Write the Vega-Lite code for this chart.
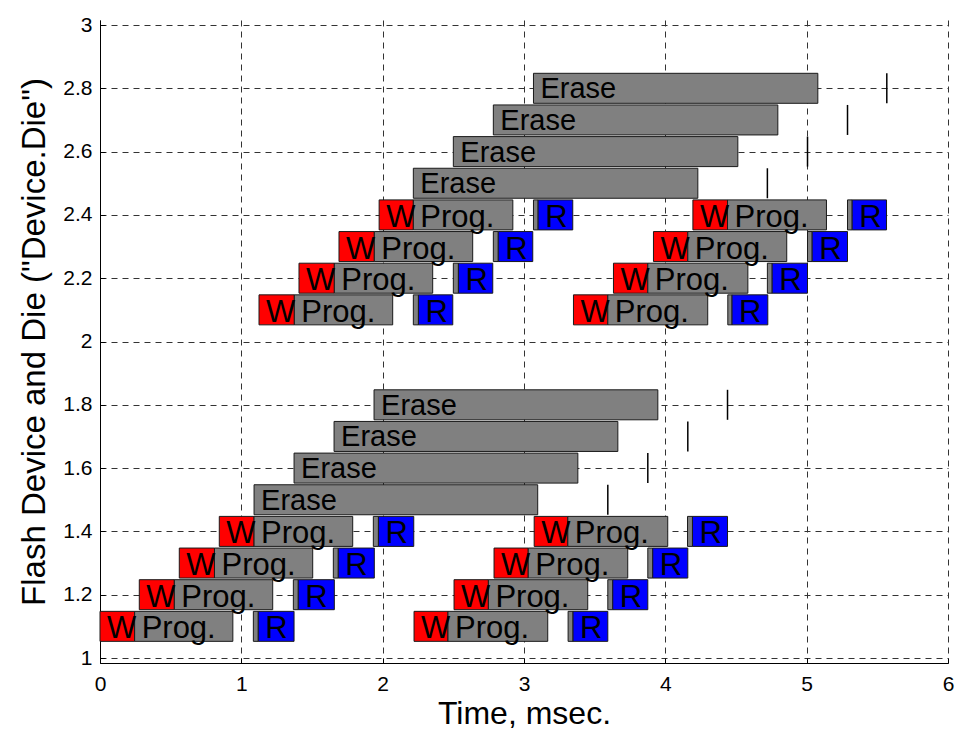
{
  "$schema": "https://vega.github.io/schema/vega-lite/v6.json",
  "width": 848,
  "height": 643,
  "autosize": {"type": "none"},
  "padding": {"left": 100, "top": 20, "right": 19, "bottom": 68},
  "background": "white",
  "config": {"view": {"stroke": null}, "font": "Liberation Sans"},
  "datasets": {
    "bars": [
      {"row": 1.1, "kind": "W", "start": 0, "end": 0.245, "label": "W"},
      {"row": 1.1, "kind": "Prog", "start": 0.245, "end": 0.94, "label": "Prog."},
      {"row": 1.1, "kind": "Small", "start": 1.085, "end": 1.12, "label": ""},
      {"row": 1.1, "kind": "R", "start": 1.12, "end": 1.373, "label": "R"},
      {"row": 1.2, "kind": "W", "start": 0.278, "end": 0.526, "label": "W"},
      {"row": 1.2, "kind": "Prog", "start": 0.526, "end": 1.222, "label": "Prog."},
      {"row": 1.2, "kind": "Small", "start": 1.368, "end": 1.403, "label": ""},
      {"row": 1.2, "kind": "R", "start": 1.403, "end": 1.658, "label": "R"},
      {"row": 1.3, "kind": "W", "start": 0.561, "end": 0.81, "label": "W"},
      {"row": 1.3, "kind": "Prog", "start": 0.81, "end": 1.505, "label": "Prog."},
      {"row": 1.3, "kind": "Small", "start": 1.651, "end": 1.686, "label": ""},
      {"row": 1.3, "kind": "R", "start": 1.686, "end": 1.941, "label": "R"},
      {"row": 1.4, "kind": "W", "start": 0.844, "end": 1.09, "label": "W"},
      {"row": 1.4, "kind": "Prog", "start": 1.09, "end": 1.788, "label": "Prog."},
      {"row": 1.4, "kind": "Small", "start": 1.934, "end": 1.97, "label": ""},
      {"row": 1.4, "kind": "R", "start": 1.97, "end": 2.22, "label": "R"},
      {"row": 1.1, "kind": "W", "start": 2.222, "end": 2.462, "label": "W"},
      {"row": 1.1, "kind": "Prog", "start": 2.462, "end": 3.168, "label": "Prog."},
      {"row": 1.1, "kind": "Small", "start": 3.312, "end": 3.347, "label": ""},
      {"row": 1.1, "kind": "R", "start": 3.347, "end": 3.593, "label": "R"},
      {"row": 1.2, "kind": "W", "start": 2.505, "end": 2.748, "label": "W"},
      {"row": 1.2, "kind": "Prog", "start": 2.748, "end": 3.451, "label": "Prog."},
      {"row": 1.2, "kind": "Small", "start": 3.593, "end": 3.628, "label": ""},
      {"row": 1.2, "kind": "R", "start": 3.628, "end": 3.876, "label": "R"},
      {"row": 1.3, "kind": "W", "start": 2.788, "end": 3.03, "label": "W"},
      {"row": 1.3, "kind": "Prog", "start": 3.03, "end": 3.734, "label": "Prog."},
      {"row": 1.3, "kind": "Small", "start": 3.876, "end": 3.911, "label": ""},
      {"row": 1.3, "kind": "R", "start": 3.911, "end": 4.159, "label": "R"},
      {"row": 1.4, "kind": "W", "start": 3.072, "end": 3.31, "label": "W"},
      {"row": 1.4, "kind": "Prog", "start": 3.31, "end": 4.017, "label": "Prog."},
      {"row": 1.4, "kind": "Small", "start": 4.157, "end": 4.192, "label": ""},
      {"row": 1.4, "kind": "R", "start": 4.192, "end": 4.44, "label": "R"},
      {"row": 2.1, "kind": "W", "start": 1.125, "end": 1.375, "label": "W"},
      {"row": 2.1, "kind": "Prog", "start": 1.375, "end": 2.071, "label": "Prog."},
      {"row": 2.1, "kind": "Small", "start": 2.217, "end": 2.253, "label": ""},
      {"row": 2.1, "kind": "R", "start": 2.253, "end": 2.496, "label": "R"},
      {"row": 2.2, "kind": "W", "start": 1.408, "end": 1.658, "label": "W"},
      {"row": 2.2, "kind": "Prog", "start": 1.658, "end": 2.354, "label": "Prog."},
      {"row": 2.2, "kind": "Small", "start": 2.5, "end": 2.536, "label": ""},
      {"row": 2.2, "kind": "R", "start": 2.536, "end": 2.779, "label": "R"},
      {"row": 2.3, "kind": "W", "start": 1.691, "end": 1.941, "label": "W"},
      {"row": 2.3, "kind": "Prog", "start": 1.941, "end": 2.637, "label": "Prog."},
      {"row": 2.3, "kind": "Small", "start": 2.783, "end": 2.818, "label": ""},
      {"row": 2.3, "kind": "R", "start": 2.818, "end": 3.062, "label": "R"},
      {"row": 2.4, "kind": "W", "start": 1.975, "end": 2.217, "label": "W"},
      {"row": 2.4, "kind": "Prog", "start": 2.217, "end": 2.921, "label": "Prog."},
      {"row": 2.4, "kind": "Small", "start": 3.067, "end": 3.1, "label": ""},
      {"row": 2.4, "kind": "R", "start": 3.1, "end": 3.345, "label": "R"},
      {"row": 2.1, "kind": "W", "start": 3.35, "end": 3.593, "label": "W"},
      {"row": 2.1, "kind": "Prog", "start": 3.593, "end": 4.3, "label": "Prog."},
      {"row": 2.1, "kind": "Small", "start": 4.442, "end": 4.472, "label": ""},
      {"row": 2.1, "kind": "R", "start": 4.472, "end": 4.725, "label": "R"},
      {"row": 2.2, "kind": "W", "start": 3.633, "end": 3.876, "label": "W"},
      {"row": 2.2, "kind": "Prog", "start": 3.876, "end": 4.584, "label": "Prog."},
      {"row": 2.2, "kind": "Small", "start": 4.722, "end": 4.756, "label": ""},
      {"row": 2.2, "kind": "R", "start": 4.756, "end": 5.006, "label": "R"},
      {"row": 2.3, "kind": "W", "start": 3.916, "end": 4.159, "label": "W"},
      {"row": 2.3, "kind": "Prog", "start": 4.159, "end": 4.859, "label": "Prog."},
      {"row": 2.3, "kind": "Small", "start": 5.006, "end": 5.039, "label": ""},
      {"row": 2.3, "kind": "R", "start": 5.039, "end": 5.289, "label": "R"},
      {"row": 2.4, "kind": "W", "start": 4.195, "end": 4.44, "label": "W"},
      {"row": 2.4, "kind": "Prog", "start": 4.44, "end": 5.14, "label": "Prog."},
      {"row": 2.4, "kind": "Small", "start": 5.289, "end": 5.322, "label": ""},
      {"row": 2.4, "kind": "R", "start": 5.322, "end": 5.565, "label": "R"},
      {"row": 1.5, "kind": "Erase", "start": 1.09, "end": 3.097, "label": "Erase"},
      {"row": 1.6, "kind": "Erase", "start": 1.373, "end": 3.381, "label": "Erase"},
      {"row": 1.7, "kind": "Erase", "start": 1.656, "end": 3.664, "label": "Erase"},
      {"row": 1.8, "kind": "Erase", "start": 1.939, "end": 3.947, "label": "Erase"},
      {"row": 2.5, "kind": "Erase", "start": 2.217, "end": 4.23, "label": "Erase"},
      {"row": 2.6, "kind": "Erase", "start": 2.5, "end": 4.513, "label": "Erase"},
      {"row": 2.7, "kind": "Erase", "start": 2.783, "end": 4.796, "label": "Erase"},
      {"row": 2.8, "kind": "Erase", "start": 3.067, "end": 5.079, "label": "Erase"}
    ],
    "ticks": [
      {"row": 1.5, "t": 3.593},
      {"row": 1.6, "t": 3.876},
      {"row": 1.7, "t": 4.159},
      {"row": 1.8, "t": 4.44},
      {"row": 2.5, "t": 4.722},
      {"row": 2.6, "t": 5.006},
      {"row": 2.7, "t": 5.289},
      {"row": 2.8, "t": 5.567}
    ]
  },
  "layer": [
    {
      "data": {"name": "bars"},
      "mark": {"type": "bar", "height": 30, "stroke": "#1a1a1a", "strokeWidth": 1},
      "encoding": {
        "x": {
          "field": "start", "type": "quantitative",
          "scale": {"domain": [0, 6], "nice": false, "zero": false},
          "axis": {
            "values": [0, 1, 2, 3, 4, 5, 6],
            "format": "~g",
            "title": "Time, msec.",
            "grid": true, "gridDash": [6, 5], "gridColor": "#333333", "gridWidth": 1, "gridOpacity": 1,
            "domainColor": "black", "domainWidth": 1,
            "ticks": true, "tickColor": "black", "tickSize": -5, "tickWidth": 1,
            "labelPadding": 15, "labelFontSize": 21, "labelColor": "black", "labelFont": "Liberation Sans", "labelFlush": false,
            "titleFontSize": 32, "titleFontWeight": "normal", "titleColor": "black", "titleFont": "Liberation Sans",
            "titleX": 424, "titleY": 60, "titleBaseline": "alphabetic", "titleAlign": "center"
          }
        },
        "x2": {"field": "end"},
        "y": {
          "field": "row", "type": "quantitative",
          "scale": {"domain": [1, 3], "nice": false, "zero": false},
          "axis": {
            "values": [1, 1.2, 1.4, 1.6, 1.8, 2, 2.2, 2.4, 2.6, 2.8, 3],
            "format": "~g",
            "title": "Flash Device and Die (\"Device.Die\")",
            "grid": true, "gridDash": [6, 5], "gridColor": "#333333", "gridWidth": 1, "gridOpacity": 1,
            "domainColor": "black", "domainWidth": 1,
            "ticks": true, "tickColor": "black", "tickSize": -5, "tickWidth": 1,
            "labelPadding": 13, "labelFontSize": 21, "labelColor": "black", "labelFont": "Liberation Sans", "labelFlush": false,
            "titleFontSize": 33, "titleFontWeight": "normal", "titleColor": "black", "titleFont": "Liberation Sans",
            "titleX": -56, "titleY": 321.5, "titleBaseline": "alphabetic", "titleAlign": "center", "titleAngle": -90
          }
        },
        "color": {
          "field": "kind", "type": "nominal",
          "scale": {"domain": ["W", "Prog", "Small", "R", "Erase"], "range": ["#ff0000", "#808080", "#808080", "#0000ff", "#808080"]},
          "legend": null
        }
      }
    },
    {
      "data": {"name": "ticks"},
      "mark": {"type": "tick", "orient": "vertical", "size": 30, "thickness": 1.5, "color": "black", "opacity": 1},
      "encoding": {
        "x": {"field": "t", "type": "quantitative", "scale": {"domain": [0, 6], "nice": false, "zero": false}},
        "y": {"field": "row", "type": "quantitative", "scale": {"domain": [1, 3], "nice": false, "zero": false}}
      }
    },
    {
      "data": {"name": "bars"},
      "transform": [{"filter": "datum.kind === 'W' || datum.kind === 'Prog' || datum.kind === 'R'"}],
      "mark": {"type": "text", "align": "left", "baseline": "alphabetic", "dx": 7, "dy": 12, "fontSize": 31, "font": "Liberation Sans", "color": "black"},
      "encoding": {
        "x": {"field": "start", "type": "quantitative", "scale": {"domain": [0, 6], "nice": false, "zero": false}},
        "y": {"field": "row", "type": "quantitative", "scale": {"domain": [1, 3], "nice": false, "zero": false}},
        "text": {"field": "label"}
      }
    },
    {
      "data": {"name": "bars"},
      "transform": [{"filter": "datum.kind === 'Erase'"}],
      "mark": {"type": "text", "align": "left", "baseline": "alphabetic", "dx": 7, "dy": 10, "fontSize": 29, "font": "Liberation Sans", "color": "black"},
      "encoding": {
        "x": {"field": "start", "type": "quantitative", "scale": {"domain": [0, 6], "nice": false, "zero": false}},
        "y": {"field": "row", "type": "quantitative", "scale": {"domain": [1, 3], "nice": false, "zero": false}},
        "text": {"field": "label"}
      }
    }
  ]
}
